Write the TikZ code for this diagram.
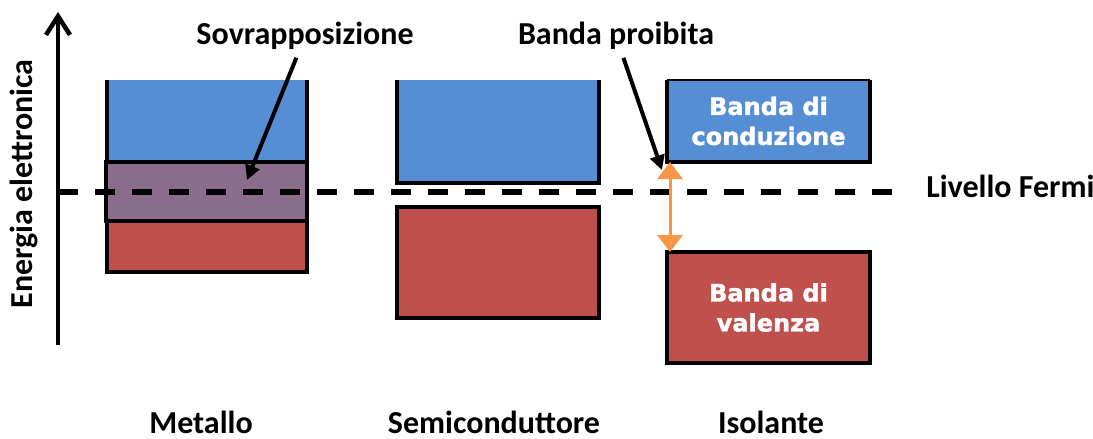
\documentclass[tikz,border=0pt]{standalone}
\usepackage{fontspec}
\setmainfont{Carlito}
\newfontfamily\boxfont[BoldFeatures={FakeBold=1.5}]{DejaVu Sans}
\usetikzlibrary{arrows.meta}
\definecolor{bandblue}{HTML}{558ED5}
\definecolor{bandred}{HTML}{C0504D}
\definecolor{bandpurple}{HTML}{8A6D8C}
\definecolor{gaporange}{HTML}{F79646}
\begin{document}
\begin{tikzpicture}[x=0.75pt,y=-0.75pt,
  lbl/.style={font=\bfseries\fontsize{24}{28}\selectfont, inner sep=0pt, anchor=base},
  band/.style={inner sep=0pt, outer sep=0pt, anchor=north west},
  bord/.style={draw=black, line width=2.5pt},
  wtxt/.style={text=white, align=center, inner sep=0pt, font=\boxfont\bfseries\fontsize{18}{22.5}\selectfont},
  pointer/.style={line width=3pt, -{Triangle[length=11pt,width=11pt]}, shorten <=6pt},
  gap/.style={line width=2.25pt, draw=gaporange, {Triangle[length=12.75pt,width=18.75pt]}-{Triangle[length=12.75pt,width=18.75pt]}},
  axis/.style={line width=3.4pt, -{Straight Barb[length=14pt,width=18pt,line width=3.4pt]}},
  fermi/.style={line width=4pt, dash pattern=on 15pt off 12.75pt}
]
\useasboundingbox (0,0) rectangle (1093,439);

% Metallo
\node[band, fill=bandblue, minimum width=150pt, minimum height=61.5pt] (mb) at (107,80) {};
\draw[bord] (mb.north west) -- (mb.south west) (mb.north east) -- (mb.south east);
\node[band, bord, fill=bandpurple, minimum width=150.75pt, minimum height=44.25pt] (mp) at (106,162) {};
\node[band, bord, fill=bandred, minimum width=150pt, minimum height=38.25pt] (mr) at (107,221) {};

% Semiconduttore
\node[band, fill=bandblue, minimum width=151.5pt, minimum height=77.25pt] (sb) at (397,80) {};
\draw[bord] (sb.north west) -- (sb.south west) -- (sb.south east) -- (sb.north east);
\node[band, bord, fill=bandred, minimum width=151.5pt, minimum height=83.25pt] (sr) at (397,207) {};

% Isolante
\node[band, fill=bandblue, minimum width=152.25pt, minimum height=61.5pt] (ib) at (667,80) {};
\draw[bord] (ib.north west) -- (ib.south west) -- (ib.south east) -- (ib.north east);
\draw[line width=0.8pt] (ib.north west) -- (ib.north east);
\node[band, bord, fill=bandred, minimum width=152.25pt, minimum height=83.25pt] (ir) at (667,252) {};
\node[wtxt] (ibt) at (ib.center) {Banda di\\conduzione};
\node[wtxt] (irt) at (ir.center) {Banda di\\valenza};

% axis
\coordinate (axb) at (58,345);
\coordinate (axt) at (58,12);
\draw[axis] (axb) -- (axt);
\node[lbl, rotate=90] (energy) at (32,184) {Energia elettronica};

% Fermi level
\coordinate (fs) at (58,192);
\coordinate (fe) at (898,192);
\draw[fermi] (fs) -- (fe);
\node[lbl, anchor=base west] (fermi) at (926,197) {Livello Fermi};

% gap arrow
\draw[gap] ([xshift=2.25pt]ib.south west) -- ([xshift=2.25pt]ir.north west);

% labels with pointers
\node[lbl] (sov) at (305,45) {Sovrapposizione};
\coordinate (sovtip) at (247,180);
\draw[pointer] (sov) -- (sovtip);
\node[lbl] (proib) at (616,45) {Banda proibita};
\coordinate (proibtip) at (662,170);
\draw[pointer] (proib) -- (proibtip);

% bottom labels
\node[lbl] (met) at (201,433) {Metallo};
\node[lbl] (sem) at (494,433) {Semiconduttore};
\node[lbl] (iso) at (771,433) {Isolante};
\end{tikzpicture}
\end{document}
